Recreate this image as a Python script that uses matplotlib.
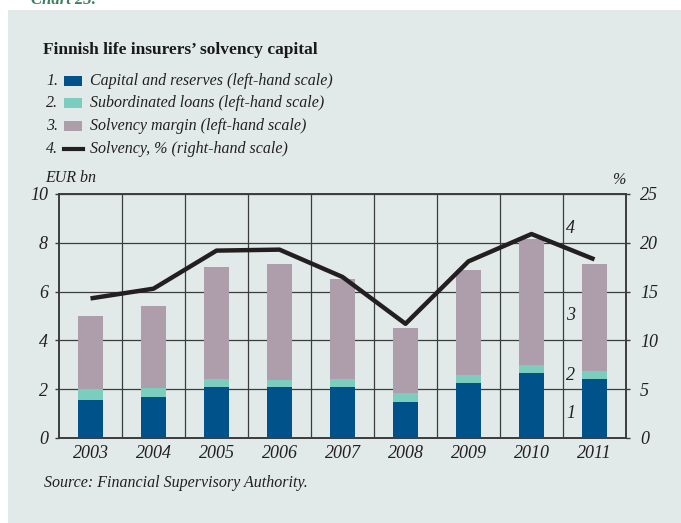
import matplotlib
matplotlib.use("Agg")
import matplotlib.pyplot as plt
import numpy as np

# values
years = ["2003", "2004", "2005", "2006", "2007", "2008", "2009", "2010", "2011"]
capital = [1.57, 1.69, 2.11, 2.07, 2.11, 1.46, 2.24, 2.65, 2.43]
subordinated = [0.43, 0.34, 0.30, 0.30, 0.30, 0.37, 0.35, 0.35, 0.33]
margin = [2.98, 3.36, 4.60, 4.76, 4.12, 2.67, 4.29, 5.14, 4.37]
solvency = [14.3, 15.3, 19.2, 19.3, 16.5, 11.7, 18.1, 20.9, 18.3]
legend_labels = ["Capital and reserves (left-hand scale)",
                 "Subordinated loans (left-hand scale)",
                 "Solvency margin (left-hand scale)",
                 "Solvency, % (right-hand scale)"]

bg = "#e1eae8"
c_cap = "#00528a"
c_sub = "#7bcdbd"
c_mar = "#ae9eab"
c_line = "#231f20"
serif = "Liberation Serif"
fs = 11.5

fig = plt.figure(figsize=(6.81, 5.23), dpi=100)
fig.patch.set_facecolor("white")
# tinted panel behind everything
fig.patches.append(plt.Rectangle((8 / 681, 0), 1, 1 - 10 / 523, transform=fig.transFigure,
                                 facecolor=bg, edgecolor="none", zorder=-10))
fig.text(0.045, 1.0, "Chart 23.", color="#3f7f5f", fontsize=12, family=serif,
         style="italic", fontweight="bold", va="center")

ax = fig.add_axes([59 / 681, 85 / 523, 567 / 681, 244 / 523])
ax.set_facecolor(bg)
x = np.arange(len(years))
w = 0.4
cap = np.array(capital)
sub = np.array(subordinated)
mar = np.array(margin)
ax.bar(x, cap, w, color=c_cap, zorder=3)
ax.bar(x, sub, w, bottom=cap, color=c_sub, zorder=3)
ax.bar(x, mar, w, bottom=cap + sub, color=c_mar, zorder=3)

ax.set_xlim(-0.5, len(years) - 0.5)
ax.set_ylim(0, 10)
ax.set_yticks([0, 2, 4, 6, 8, 10])
ax.set_xticks(x)
ax.set_xticklabels(years)
ax.set_xticks(np.arange(0.5, len(years) - 1, 1), minor=True)
ax.grid(True, axis="y", color="#3c3c3c", linewidth=0.9, zorder=1)
ax.grid(True, axis="x", which="minor", color="#3c3c3c", linewidth=0.9, zorder=1)
ax.tick_params(axis="x", which="both", length=0, pad=5)
ax.tick_params(axis="y", length=3, width=1, color="#3c3c3c", pad=5)
for s in ax.spines.values():
    s.set_color("#3c3c3c")
    s.set_linewidth(1.4)

ax2 = ax.twinx()
ax2.plot(x, solvency, color=c_line, linewidth=3.2, zorder=5, solid_capstyle="butt")
ax2.set_ylim(0, 25)
ax2.set_yticks([0, 5, 10, 15, 20, 25])
ax2.tick_params(axis="y", length=3, width=1, color="#3c3c3c", pad=7)
for s in ax2.spines.values():
    s.set_visible(False)

for a in (ax, ax2):
    for lab in a.get_xticklabels() + a.get_yticklabels():
        lab.set_family(serif)
        lab.set_style("italic")
        lab.set_fontsize(13)
        lab.set_color("#231f20")

# series numbers next to the last bar
for txt, yv in [("4", 8.6), ("3", 5.0), ("2", 2.55), ("1", 1.0)]:
    ax.text(8 - 0.38, yv, txt, ha="center", va="center", family=serif,
            style="italic", fontsize=13, color="#231f20", zorder=6)

# title and legend
fig.text(43 / 681, 1 - 50 / 523, "Finnish life insurers\u2019 solvency capital", family=serif,
         fontweight="bold", fontsize=12.5, va="center", color="#1a1a1a")
rows = [81, 103, 126, 149]
for i, (lab, yy) in enumerate(zip(legend_labels, rows)):
    yf = 1 - yy / 523
    fig.text(46 / 681, yf, f"{i + 1}.", family=serif, style="italic", fontsize=fs,
             va="center", color="#231f20")
    if i < 3:
        col = [c_cap, c_sub, c_mar][i]
        fig.patches.append(plt.Rectangle((64 / 681, yf - 5 / 523), 18 / 681, 10 / 523,
                                         transform=fig.transFigure, facecolor=col,
                                         edgecolor="none"))
    else:
        fig.lines.append(plt.Line2D([64 / 681, 83 / 681], [yf, yf], transform=fig.transFigure,
                                    color=c_line, linewidth=3))
    fig.text(90 / 681, yf, lab, family=serif, style="italic", fontsize=fs,
             va="center", color="#231f20")

fig.text(45 / 681, 1 - 178 / 523, "EUR bn", family=serif, style="italic", fontsize=fs,
         va="center", color="#231f20")
fig.text(612 / 681, 1 - 180 / 523, "%", family=serif, style="italic", fontsize=fs,
         va="center", color="#231f20")
fig.text(44 / 681, 1 - 483 / 523, "Source: Financial Supervisory Authority.", family=serif,
         style="italic", fontsize=fs, va="center", color="#231f20")

fig.savefig("out.png", dpi=100, facecolor=fig.get_facecolor())
